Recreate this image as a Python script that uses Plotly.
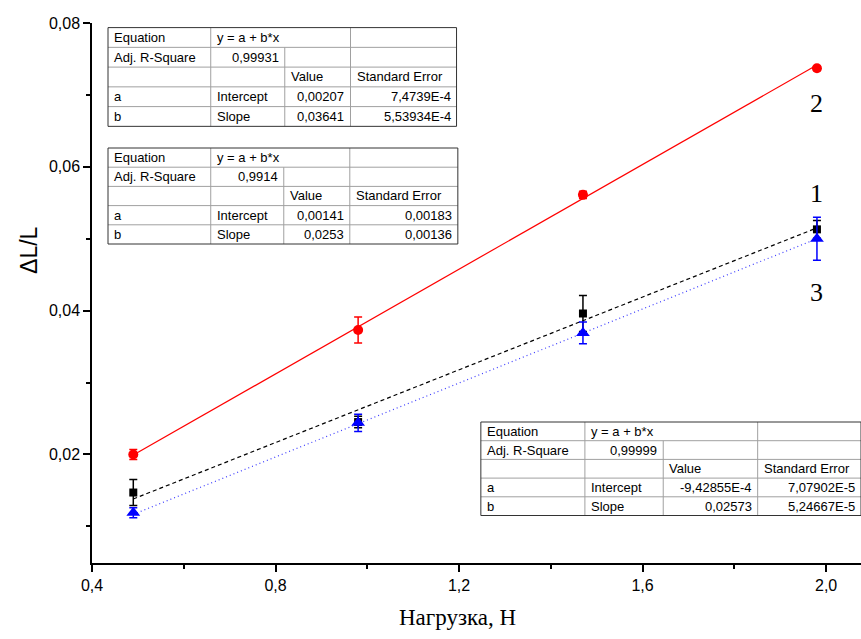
import plotly.graph_objects as go

# ---------------- data ----------------
load = [0.49, 0.98, 1.47, 1.98]

s2_y = [0.0200, 0.0373, 0.0561, 0.0737]      # curve 2 (red)
s2_err = [0.0007, 0.0018, 0.0005, 0.0003]

s1_y = [0.0147, 0.0245, 0.0396, 0.0513]      # curve 1 (black)
s1_err = [0.0018, 0.0008, 0.0025, 0.00125]

s3_y = [0.0119, 0.0244, 0.0369, 0.0500]      # curve 3 (blue)
s3_err = [0.0007, 0.0012, 0.0015, 0.0030]

# fit parameters from the tables
fit2 = (0.00207, 0.03641)
fit1 = (0.00141, 0.0253)
fit3 = (-9.42855e-4, 0.02573)

table2_txt = ["0,99931", "0,00207", "7,4739E-4", "0,03641", "5,53934E-4"]
table1_txt = ["0,9914", "0,00141", "0,00183", "0,0253", "0,00136"]
table3_txt = ["0,99999", "-9,42855E-4", "7,07902E-5", "0,02573", "5,24667E-5"]

x_ticks = [0.4, 0.8, 1.2, 1.6, 2.0]
y_ticks = [0.02, 0.04, 0.06, 0.08]

# ---------------- layout geometry ----------------
W, H = 861, 639
X0, X1, Y0, Y1 = 92.3, 861.0, 22.7, 562.7


def px(x):
    return (x - X0) / (X1 - X0)


def py(y):
    return (Y1 - y) / (Y1 - Y0)


fig = go.Figure()

xf = [load[0], load[-1]]


def fit_line(p):
    return [p[0] + p[1] * v for v in xf]


fig.add_trace(go.Scatter(x=xf, y=fit_line(fit2), mode="lines",
                         line=dict(color="#ff0000", width=1.2), hoverinfo="skip"))
fig.add_trace(go.Scatter(x=xf, y=fit_line(fit1), mode="lines",
                         line=dict(color="#000000", width=1.2, dash="4px,3px"), hoverinfo="skip"))
fig.add_trace(go.Scatter(x=xf, y=fit_line(fit3), mode="lines",
                         line=dict(color="#3a3aff", width=1.2, dash="1px,3px"), hoverinfo="skip"))

fig.add_trace(go.Scatter(x=load, y=s1_y, mode="markers",
                         marker=dict(symbol="square", size=8, color="#000000"),
                         error_y=dict(type="data", array=s1_err, color="#000000", thickness=1.5, width=4)))
fig.add_trace(go.Scatter(x=load, y=s3_y, mode="markers",
                         marker=dict(symbol="triangle-up", size=12, color="#0000ff"),
                         error_y=dict(type="data", array=s3_err, color="#0000ff", thickness=1.5, width=4)))
fig.add_trace(go.Scatter(x=load, y=s2_y, mode="markers",
                         marker=dict(symbol="circle", size=10, color="#ff0000"),
                         error_y=dict(type="data", array=s2_err, color="#ff0000", thickness=1.5, width=4)))

shapes = []
annotations = []

TFONT = dict(family="Liberation Sans, Arial", size=13, color="#000000")


def draw_table(L, c1, c2, c3, R, top, rh, vals):
    bottom = top + 5 * rh
    # white background first
    shapes.append(dict(type="rect", xref="paper", yref="paper", x0=px(L), x1=px(R),
                       y0=py(bottom), y1=py(top), line=dict(width=0),
                       fillcolor="white", layer="above"))
    # inner horizontal lines
    for i in range(1, 5):
        yy = top + i * rh
        shapes.append(dict(type="line", xref="paper", yref="paper", x0=px(L), x1=px(R),
                           y0=py(yy), y1=py(yy), line=dict(color="#a0a0a0", width=1), layer="above"))
    # vertical lines
    for cx, start in ((c1, top), (c2, top + rh), (c3, top)):
        shapes.append(dict(type="line", xref="paper", yref="paper", x0=px(cx), x1=px(cx),
                           y0=py(start), y1=py(bottom), line=dict(color="#a0a0a0", width=1), layer="above"))
    # outer frame
    shapes.append(dict(type="rect", xref="paper", yref="paper", x0=px(L), x1=px(R),
                       y0=py(bottom), y1=py(top), line=dict(color="#333333", width=1),
                       fillcolor="rgba(0,0,0,0)", layer="above"))

    def txt(t, x, row, anchor):
        annotations.append(dict(text=t, xref="paper", yref="paper", x=px(x), y=py(top + (row + 0.5) * rh),
                                xanchor=anchor, yanchor="middle", showarrow=False, font=TFONT))

    pad = 4
    txt("Equation", L + pad, 0, "left")
    txt("y = a + b*x", c1 + pad, 0, "left")
    txt("Adj. R-Square", L + pad, 1, "left")
    txt(vals[0], c2 - pad, 1, "right")
    txt("Value", c2 + pad, 2, "left")
    txt("Standard Error", c3 + pad, 2, "left")
    txt("a", L + pad, 3, "left")
    txt("Intercept", c1 + pad, 3, "left")
    txt(vals[1], c3 - pad, 3, "right")
    txt(vals[2], R - pad, 3, "right")
    txt("b", L + pad, 4, "left")
    txt("Slope", c1 + pad, 4, "left")
    txt(vals[3], c3 - pad, 4, "right")
    txt(vals[4], R - pad, 4, "right")


draw_table(108.3, 211, 285, 350.7, 456.7, 27.3, 19.75, table2_txt)
draw_table(108.3, 211, 284, 350, 458, 147.7, 19.2, table1_txt)
draw_table(481, 585, 663.3, 757.7, 861, 421.7, 18.7, table3_txt)

# curve labels
SERIF = "Liberation Serif, Times New Roman, serif"
for lab, yy in (("2", 103), ("1", 193), ("3", 292)):
    annotations.append(dict(text=lab, xref="paper", yref="paper", x=px(817), y=py(yy),
                            xanchor="center", yanchor="middle", showarrow=False,
                            font=dict(family=SERIF, size=26, color="#000000")))

# axis titles
annotations.append(dict(text="ΔL/L", xref="paper", yref="paper", x=px(30), y=py(250),
                        xanchor="center", yanchor="middle", showarrow=False, textangle=-90,
                        font=dict(family="Liberation Sans, Arial", size=23, color="#000000")))
annotations.append(dict(text="Нагрузка, Н", xref="paper", yref="paper", x=px(458), y=py(617),
                        xanchor="center", yanchor="middle", showarrow=False,
                        font=dict(family=SERIF, size=23, color="#000000")))

fig.update_layout(
    width=W, height=H,
    margin=dict(l=X0, r=W - X1, t=Y0, b=H - Y1, pad=0),
    paper_bgcolor="white", plot_bgcolor="white",
    showlegend=False,
    separators=", ",
    shapes=shapes,
    annotations=annotations,
)

fig.update_xaxes(range=[0.4, 2.076], tickmode="array", tickvals=x_ticks, tickformat=".1f",
                 ticks="outside", ticklen=7, tickwidth=1.5, tickcolor="#000",
                 showline=True, linecolor="#000", linewidth=1.5, showgrid=False, zeroline=False,
                 tickfont=dict(family="Liberation Sans Narrow, Arial Narrow, Liberation Sans", size=16, color="#000"),
                 minor=dict(tickvals=[0.6, 1.0, 1.4, 1.8], ticks="outside", ticklen=4, tickwidth=1.5,
                            tickcolor="#000", showgrid=False))
fig.update_yaxes(range=[0.0049, 0.08], tickmode="array", tickvals=y_ticks, tickformat=".2f",
                 ticks="outside", ticklen=7, tickwidth=1.5, tickcolor="#000",
                 showline=True, linecolor="#000", linewidth=1.5, showgrid=False, zeroline=False,
                 tickfont=dict(family="Liberation Sans, Arial", size=16, color="#000"),
                 minor=dict(tickvals=[0.01, 0.03, 0.05, 0.07], ticks="outside", ticklen=4, tickwidth=1.5,
                            tickcolor="#000", showgrid=False))

fig.write_html("out.html")
